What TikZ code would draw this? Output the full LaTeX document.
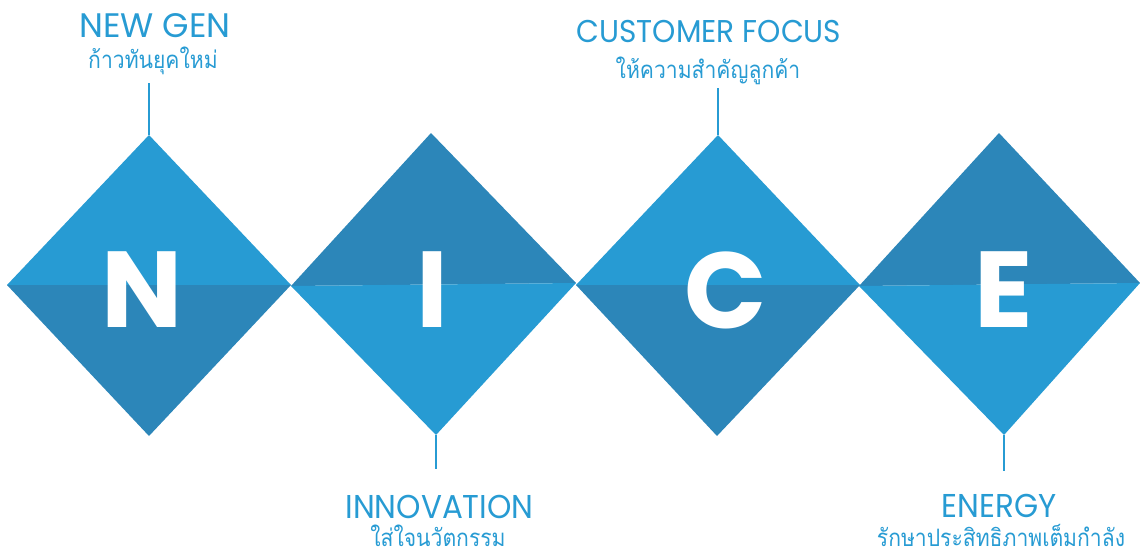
\documentclass[tikz,border=0pt]{standalone}
\usepackage{fontspec}
\setmainfont{Poppins}
\newfontfamily\thaifont[Script=Thai,FakeStretch=0.88]{Loma}
\newfontfamily\capfont{Poppins}
\newfontfamily\headfont[FakeStretch=0.94]{Poppins}
\definecolor{lightblue}{HTML}{279BD3}
\definecolor{darkblue}{HTML}{2C86B9}
\begin{document}
\begin{tikzpicture}[x=1pt,y=-1pt,
  lightpart/.style={fill=lightblue,draw=none},
  darkpart/.style={fill=darkblue,draw=none},
  bigletter/.style={text=white,font=\capfont\bfseries\fontsize{108}{108}\selectfont,inner sep=0pt,anchor=base},
  heading/.style={text=lightblue,font=\headfont\fontsize{33}{33}\selectfont,inner sep=0pt,anchor=base},
  subheading/.style={text=lightblue,font=\thaifont\fontsize{24}{24}\selectfont,inner sep=0pt,anchor=base},
  stem/.style={draw=lightblue,line width=2pt}]
\useasboundingbox (0,0) rectangle (1140,551);
% N diamond
\coordinate (nT) at (149,135); \coordinate (nL) at (7,285);
\coordinate (nR) at (291,285); \coordinate (nB) at (149,436);
% I diamond
\coordinate (iT) at (431,133); \coordinate (iL) at (291,286);
\coordinate (iR) at (576,283); \coordinate (iB) at (436,435);
% C diamond
\coordinate (cT) at (718,135); \coordinate (cL) at (576,285);
\coordinate (cR) at (860,285); \coordinate (cB) at (717,436);
% E diamond
\coordinate (eT) at (999,133); \coordinate (eL) at (859,286);
\coordinate (eR) at (1140,283); \coordinate (eB) at (1004,435);

\fill[lightpart] (nL) -- (nT) -- (nR) -- cycle;
\fill[darkpart] (nL) -- (nB) -- (nR) -- cycle;
\fill[darkpart] (iL) -- (iT) -- (iR) -- cycle;
\fill[lightpart] (iL) -- (iB) -- (iR) -- cycle;
\fill[lightpart] (cL) -- (cT) -- (cR) -- cycle;
\fill[darkpart] (cL) -- (cB) -- (cR) -- cycle;
\fill[darkpart] (eL) -- (eT) -- (eR) -- cycle;
\fill[lightpart] (eL) -- (eB) -- (eR) -- cycle;

\node[bigletter] (nletter) at (142,327) {N};
\node[bigletter] (iletter) at (432.5,327) {I};
\node[bigletter] (cletter) at (726,328) {C};
\node[bigletter] (eletter) at (1004,327) {E};

% labels
\node[heading,font=\capfont\fontsize{34}{34}\selectfont] (ntitle) at (155,38) {NEW GEN};
\node[subheading] (nsub) at (153,68) {ก้าวทันยุคใหม่};
\node[heading,font=\headfont\fontsize{31.5}{31.5}\selectfont] (ctitle) at (709,43) {CUSTOMER FOCUS};
\node[subheading] (csub) at (708,78) {ให้ความสำคัญลูกค้า};
\node[heading] (ititle) at (439.5,518) {INNOVATION};
\node[subheading] (isub) at (438,546.5) {ใส่ใจนวัตกรรม};
\node[heading] (etitle) at (999,517) {ENERGY};
\node[subheading] (esub) at (1001,546.5) {รักษาประสิทธิภาพเต็มกำลัง};

% stems
\coordinate (nstemtop) at (149,83);
\coordinate (cstemtop) at (718,88);
\coordinate (istembot) at (436,469);
\coordinate (estembot) at (1004,471);
\draw[stem] (nstemtop) -- (nT);
\draw[stem] (cstemtop) -- (cT);
\draw[stem] (iB) -- (istembot);
\draw[stem] (eB) -- (estembot);
\end{tikzpicture}
\end{document}
